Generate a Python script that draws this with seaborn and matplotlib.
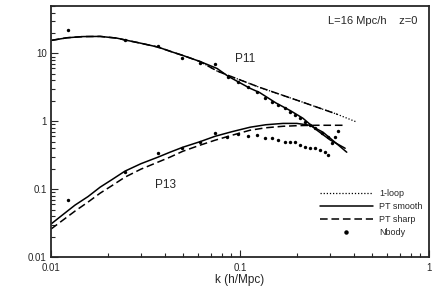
import numpy as np
import pandas as pd
import seaborn as sns
import matplotlib
matplotlib.use("Agg")
import matplotlib.pyplot as plt
from matplotlib.lines import Line2D
from matplotlib.ticker import FixedLocator, FixedFormatter, LogLocator, NullFormatter

# P11, PT smooth
k11_smooth = [0.0101, 0.01215, 0.01477, 0.0182, 0.0223, 0.0246, 0.0296, 0.0368, 0.0442, 0.050,
              0.0614, 0.0756, 0.0865, 0.113, 0.127, 0.155, 0.185, 0.215, 0.255, 0.30, 0.36]
p11_smooth = [15.6, 17.0, 17.7, 17.8, 16.8, 15.8, 14.2, 12.4, 10.4, 9.3,
              7.6, 6.0, 4.6, 3.06, 2.65, 1.86, 1.43, 1.11, 0.74, 0.53, 0.40]
# P11, PT sharp
k11_sharp = [0.0101, 0.01215, 0.01477, 0.0182, 0.0223, 0.0246, 0.0296, 0.0368, 0.0442, 0.050,
             0.0614, 0.0756, 0.0865, 0.127, 0.208, 0.326]
p11_sharp = [15.6, 17.0, 17.7, 17.8, 16.8, 15.8, 14.2, 12.4, 10.4, 9.3,
             7.6, 5.5, 4.75, 3.16, 1.97, 1.27]
# P11, 1-loop
k11_loop = [0.0614, 0.0756, 0.0865, 0.127, 0.208, 0.326, 0.416]
p11_loop = [7.6, 5.5, 4.75, 3.16, 1.97, 1.27, 0.97]

# P13, PT smooth
k13_smooth = [0.01, 0.01157, 0.0134, 0.01569, 0.0182, 0.0210, 0.0246, 0.0299, 0.0368, 0.0426,
              0.0499, 0.0614, 0.0738, 0.0906, 0.113, 0.137, 0.169, 0.200, 0.234, 0.275,
              0.318, 0.367]
p13_smooth = [0.0306, 0.0422, 0.0582, 0.0776, 0.107, 0.138, 0.184, 0.237, 0.296, 0.350,
              0.415, 0.500, 0.601, 0.702, 0.817, 0.889, 0.930, 0.930, 0.873, 0.689,
              0.491, 0.350]
# P13, PT sharp
k13_sharp = [0.01, 0.01157, 0.0134, 0.01569, 0.0182, 0.0210, 0.0246, 0.0299, 0.0368, 0.0426,
             0.0499, 0.0614, 0.0738, 0.0906, 0.113, 0.137, 0.169, 0.208, 0.255, 0.351]
p13_sharp = [0.0258, 0.035, 0.0475, 0.0644, 0.0873, 0.1125, 0.150, 0.197, 0.250, 0.296,
             0.362, 0.444, 0.526, 0.622, 0.738, 0.802, 0.844, 0.864, 0.873, 0.873]

# Nbody measurements
k11_nbody = [0.0123, 0.0246, 0.0368, 0.0493, 0.0614, 0.0737, 0.0865, 0.0976, 0.110, 0.123,
             0.136, 0.148, 0.159, 0.173, 0.184, 0.196, 0.208, 0.221, 0.234, 0.249,
             0.271, 0.292, 0.307, 0.318, 0.330]
p11_nbody = [21.8, 15.5, 12.7, 8.44, 7.13, 6.89, 4.44, 3.75, 3.16, 2.67,
             2.18, 1.90, 1.72, 1.55, 1.36, 1.22, 1.11, 0.966, 0.873, 0.788,
             0.667, 0.582, 0.475, 0.582, 0.713]
k13_nbody = [0.0123, 0.0246, 0.0368, 0.0493, 0.0614, 0.0737, 0.0853, 0.0976, 0.110, 0.123,
             0.136, 0.148, 0.159, 0.173, 0.184, 0.196, 0.208, 0.221, 0.234, 0.249,
             0.265, 0.282, 0.292]
p13_nbody = [0.0689, 0.178, 0.338, 0.401, 0.491, 0.667, 0.582, 0.644, 0.601, 0.622,
             0.562, 0.562, 0.526, 0.491, 0.491, 0.491, 0.444, 0.415, 0.401, 0.401,
             0.375, 0.350, 0.316]

sns.set_style("ticks")
plt.rcParams['font.family'] = ['Liberation Sans', 'DejaVu Sans']

fig = plt.figure(figsize=(4.36, 3.08), dpi=100)
ax = fig.add_axes([0.117, 0.1656, 0.867, 0.815])

lw = 1.1
dotted = (0, (1, 1.5))
dashed = (0, (5, 2.5))
sns.lineplot(x=k11_loop, y=p11_loop, ax=ax, color='black', lw=0.9, linestyle=dotted,
             sort=False, estimator=None)
for kk, pp in [(k11_smooth, p11_smooth), (k13_smooth, p13_smooth)]:
    sns.lineplot(x=kk, y=pp, ax=ax, color='black', lw=lw, linestyle='-',
                 sort=False, estimator=None)
for kk, pp in [(k11_sharp, p11_sharp), (k13_sharp, p13_sharp)]:
    sns.lineplot(x=kk, y=pp, ax=ax, color='black', lw=lw, linestyle=dashed,
                 sort=False, estimator=None)

nb = pd.DataFrame({'k': k11_nbody + k13_nbody, 'p': p11_nbody + p13_nbody})
sns.scatterplot(data=nb, x='k', y='p', ax=ax, color='black', s=6, linewidth=0)

ax.set_xscale('log')
ax.set_yscale('log')
ax.set_xlim(0.01, 1)
ax.set_ylim(0.01, 50)

ax.xaxis.set_major_locator(FixedLocator([0.01, 0.1, 1]))
ax.xaxis.set_major_formatter(FixedFormatter(['0.01', '0.1', '1']))
ax.yaxis.set_major_locator(FixedLocator([0.01, 0.1, 1, 10]))
ax.yaxis.set_major_formatter(FixedFormatter(['0.01', '0.1', '1', '10']))
ax.xaxis.set_minor_locator(LogLocator(subs=np.arange(2, 10)))
ax.yaxis.set_minor_locator(LogLocator(subs=np.arange(2, 10)))
ax.xaxis.set_minor_formatter(NullFormatter())
ax.yaxis.set_minor_formatter(NullFormatter())

ax.tick_params(which='both', direction='in', top=False, right=False, labelsize=7, width=0.8)
ax.tick_params(which='major', length=5)
ax.tick_params(which='minor', length=3)
ax.tick_params(axis='x', pad=4)
ax.tick_params(axis='y', pad=3)
for sp in ax.spines.values():
    sp.set_linewidth(1.3)
    sp.set_visible(True)

ax.set_xlabel('k (h/Mpc)', fontsize=8.5, labelpad=1)
ax.set_ylabel('')

ax.text(0.97, 0.96, 'L=16 Mpc/h    z=0', transform=ax.transAxes, ha='right', va='top', fontsize=8)
ax.text(0.094, 8.4, 'P11', fontsize=8.5, ha='left', va='center')
ax.text(0.0355, 0.115, 'P13', fontsize=8.5, ha='left', va='center')

handles = [
    Line2D([], [], color='black', lw=0.9, linestyle=dotted),
    Line2D([], [], color='black', lw=lw, linestyle='-'),
    Line2D([], [], color='black', lw=lw, linestyle=dashed),
    Line2D([], [], color='black', lw=0, marker='o', markersize=2.2),
]
ax.legend(handles, ['1-loop', 'PT smooth', 'PT sharp', 'Nbody'], loc='upper left',
          bbox_to_anchor=(0.712, 0.27), frameon=False, fontsize=6.5, handlelength=5.8,
          handletextpad=0.7, labelspacing=0.45, borderpad=0, borderaxespad=0, numpoints=1)

fig.savefig('out.png', dpi=100)
